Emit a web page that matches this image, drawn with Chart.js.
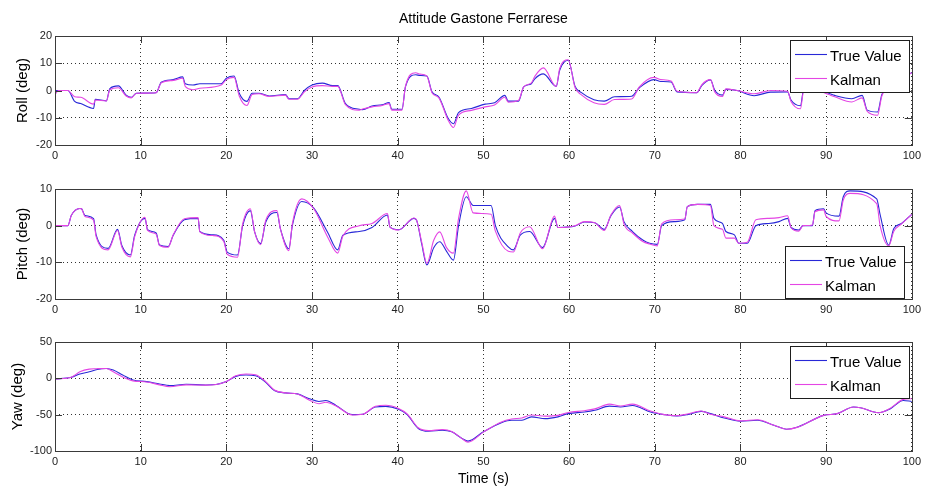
<!DOCTYPE html>
<html lang="en">
<head>
    <meta charset="UTF-8">
    <title>Attitude Gastone Ferrarese</title>
    <script src="https://cdn.jsdelivr.net/npm/chart.js"></script>
    <style>
        body { margin: 0; background: #fff; }
        #wrap { position: relative; width: 925px; height: 490px; background: #fff; }
        #wrap canvas { position: absolute; left: 0; }
    </style>
</head>
<body>
    <div id="wrap">
        <canvas id="rollChart" width="925" height="165" style="top:0px"></canvas>
        <canvas id="pitchChart" width="925" height="155" style="top:165px"></canvas>
        <canvas id="yawChart" width="925" height="170" style="top:320px"></canvas>
    </div>

    <script>
        // --- data (time in s, angles in deg) ---
        const rollTime = [0, 0.4, 1.5, 2.3, 3.0, 4.5, 4.7, 6.0, 6.4, 7.4, 8.3, 8.9, 9.5, 11.8, 12.4, 13.8, 14.9, 15.2, 16.1, 16.9, 19.4,
            20.0, 20.9, 21.5, 22.4, 23.0, 23.8, 25.0, 26.9, 27.3, 28.3, 29.1, 30.0, 31.2, 32.4, 33.0, 33.9, 35.5, 35.9, 37.0, 38.2,
            39.0, 39.3, 40.5, 40.9, 42.1, 42.6, 43.4, 44.0, 44.8, 45.9, 46.5, 47.1, 48.6, 50.2, 51.3, 52.5, 52.9, 54.1, 54.7, 55.6,
            56.0, 57.0, 58.5, 58.9, 59.9, 60.7, 61.4, 62.9, 64.1, 65.3, 67.3, 68.2, 69.9, 70.7, 71.9, 72.6, 74.9, 75.5, 76.5, 77.0,
            77.9, 78.3, 79.6, 81.6, 83.5, 85.5, 85.9, 87.0, 87.4, 88.5, 90.3, 91.0, 93.0, 94.2, 94.8, 96.0, 96.5, 98.0, 100];
        const rollTrue = [0, 0, 0, -4, -4.8, -6.6, -3.2, -3.8, 0.7, 1.7, -1.7,
            -2.5, -1, -0.8, 3, 4, 5, 2.5, 2, 2.5, 2.5,
            4.5, 5.3, -1, -4, -1, -1, -2, -1.5, -3, -3,
            0, 2, 2.7, 1.8, 1.8, -4.8, -6.9, -7, -5.7, -5.2,
            -4.4, -6.9, -6.9, 1.3, 5.8, 5.5, 5.3, -0.5, -2.4, -10.3,
            -12.2, -8.1, -6.6, -5, -4.5, -1.8, -3.9, -3.9, 1.3, 2.5,
            4.3, 6.1, 1.5, 7.4, 11.1, 1.5, -0.7, -3.4, -3.9, -2.3,
            -2.1, 1, 4, 3.3, 3.1, -0.5, -0.8, 1.9, 3.9, 0.1,
            -1.7, 0.4, 0, -1.9, -0.6, -0.5, -3.5, -5.6, 0.7, 0.5,
            -1, -1.8, -3, -1.8, -7.2, -7.9, -1.5, 3, 6.5];
        const rollKalman = [-1.5, 0, 0, -2.3, -2.5, -5, -3.5, -3.8, 0.3, 1.0, -2,
            -2.7, -1, -0.8, 2.8, 3.7, 4.5, 1.5, 0.3, 0.8, 2,
            4, 4.8, -2, -5.5, -1.5, -1.2, -2.2, -1.7, -3.2, -3.2,
            -0.5, 1.3, 1.8, 1.5, 1.5, -5.2, -7.2, -6.8, -6, -5.5,
            -4.8, -7.2, -7.2, 1.5, 6.5, 6, 5.3, -0.8, -2.7, -11,
            -13.6, -9, -7.3, -6, -5.3, -2.5, -4.3, -3.6, 1.3, 2.8,
            5.2, 8.3, 1.5, 8, 11.3, 1, -1.5, -4.5, -5.1, -3.3,
            -3.1, 1.3, 4.8, 4, 3.5, -0.3, -0.8, 2.2, 4, -0.5,
            -2.2, 0.6, 0, -1.2, 0, -0.3, -4, -6.7, 0.3, 0.5,
            -1.5, -2.3, -4.2, -2.7, -7.7, -9.1, -2, 3, 6.5];

        const pitchTime = [0, 1.5, 1.9, 2.9, 3.1, 3.5, 4.5, 4.8, 6.2, 7.3,
            7.8, 8.8, 9.3, 10.5, 10.8, 11.8, 12.2, 13.2, 13.8, 15.1,
            16.7, 16.9, 18.4, 19.7, 20.1, 21.3, 21.9, 22.8, 23.3, 24.0,
            24.6, 25.9, 26.3, 27.3, 27.7, 28.8, 30.2, 31.8, 33.0, 33.6,
            35.5, 37.0, 38.8, 39.1, 40.1, 41.9, 42.2, 42.8, 43.4, 44.2,
            44.9, 45.7, 46.5, 47.1, 48.0, 48.8, 50.9, 51.4, 52.9, 53.5,
            54.3, 55.4, 56.9, 58.3, 58.7, 60.7, 61.8, 63.0, 64.1, 64.9,
            65.9, 66.4, 67.4, 68.6, 69.4, 70.3, 70.8, 72.3, 73.5, 73.8,
            75.0, 76.5, 76.9, 77.9, 78.3, 79.3, 79.8, 80.8, 81.8, 83.3,
            84.5, 85.5, 85.9, 86.8, 87.3, 88.4, 88.7, 89.7, 90.0, 91.5,
            92.0, 92.8, 95.9, 96.3, 97.3, 97.9, 98.8, 100];
        const pitchTrue = [0, 0, 2.8, 4.7, 4.6, 2.8, 1.9, -2.5, -6.2, -1,
            -5.4, -8, -2.6, 2, -1.1, -2, -5.3, -5.7, -2.6, 1.6,
            2, -1.6, -2.5, -4, -7.2, -8, 0, 4.1, -1.7, -4.9,
            1, 3.6, -0.8, -6.3, 0, 6.6, 4.8, -1.7, -6.6, -2.6,
            -1.6, -0.5, 2.9, -0.4, -1.1, 2, 1.5, -5, -10.7, -6,
            -4.4, -7, -9.4, 0, 7.9, 5.5, 5.5, 0, -5.8, -6.6,
            -2.6, -1.6, -6, 2, -0.5, -0.1, 1, 0.8, -1, 2.8,
            5.1, 1.1, -1.6, -3.9, -4.8, -5.1, 0, 1.1, 1.6, 5.2,
            5.8, 5.8, 2, 0.6, -1.6, -2.5, -4.8, -4.8, 0, 0.6,
            1.1, 2, -0.5, -1.2, 0, 0, 4.1, 4.6, 3.5, 2.6,
            7.9, 9.5, 7.3, 3, -5.3, -0.8, 0.6, 3.1];
        const pitchKalman = [0, 0, 2.8, 4.7, 4.6, 2.5, 1.5, -3, -6.6, -1.3,
            -5.8, -8.5, -3, 2.3, -1.3, -2.3, -5.4, -5.9, -2.5, 1.9,
            2.2, -1.6, -2.7, -4.3, -7.8, -8.6, 0.5, 4.6, -1.7, -5.2,
            1.5, 4.1, -0.8, -6.8, 0.5, 7.3, 4.6, -3, -7.5, -2.8,
            0, 0.6, 3.3, -0.4, -1.2, 2.1, 1.5, -4.5, -10.3, -4,
            -1.7, -6, -7.5, 2, 9.5, 3.5, 3.1, -1.5, -7, -7.2,
            -2, -0.3, -6.3, 2.6, -0.5, 0, 1.1, 0.8, -1.3, 3,
            5.5, 0.5, -2, -4.3, -5, -5.5, 0.5, 1.6, 1.8, 5.2,
            5.8, 5.5, 0, -1, -3.4, -3.4, -4.8, -4.5, 1.6, 2,
            2.2, 2.7, -0.5, -1.5, 0, 0.2, 3.8, 4.3, 2.5, 1.3,
            7, 8.8, 6, 0, -5.5, -1.5, 0.5, 3.1];

        const yawTime = [0, 1.9, 2.9, 4.0, 4.8, 6.0, 6.8, 7.9, 9.1, 10.7,
            12.2, 13.4, 15.3, 17.6, 18.8, 20.0, 21.1, 22.3, 23.4, 24.6,
            25.6, 26.9, 28.3, 29.7, 30.8, 31.6, 32.8, 34.7, 35.9, 37.4,
            38.6, 40.1, 41.1, 42.4, 43.6, 45.2, 46.3, 47.5, 48.2, 50.0,
            52.1, 53.3, 54.5, 55.6, 57.2, 58.7, 59.9, 61.8, 63.0, 64.7,
            66.0, 67.4, 69.5, 71.1, 72.6, 73.8, 75.4, 76.5, 78.1, 80.0,
            82.0, 83.9, 85.4, 86.6, 89.7, 91.3, 93.2, 94.0, 96.1, 97.5,
            99.0, 100];
        const yawTrue = [-1, 1.4, 5.9, 9, 11.8, 13.6, 11.4, 4.5, -2.3, -4.5,
            -7.7, -10, -8.2, -9.1, -8.5, -4.5, 2.7, 4.5, 3.6, -5.5,
            -16.8, -20, -21.4, -28.2, -31.8, -30.5, -37.3, -50, -49.5, -39.5,
            -38.6, -42.7, -50, -69, -72.7, -71.4, -73.6, -82.7, -86.4, -73.6,
            -61, -57.7, -57.7, -53, -55.5, -53, -48.6, -46.4, -44, -38.2,
            -39.5, -37.3, -46.4, -50, -51.8, -50, -45.5, -48.6, -54.5, -59,
            -57.7, -64.5, -70, -67.3, -51, -48.6, -39.5, -40.5, -47.3, -41.8,
            -30.5, -31.8];
        const yawKalman = [-1, 1.5, 9, 12.7, 13.2, 13.6, 9, 2, -3.5, -5,
            -9, -11.5, -9, -9.3, -8.5, -4.5, 3.5, 6, 5, -4.5,
            -16, -20, -21.5, -30, -35, -33, -38, -50.5, -49.5, -38.5,
            -37, -41.5, -49, -68, -72, -70.5, -73, -83, -88, -74,
            -60, -56, -54.5, -50.5, -52, -51, -47, -44.5, -42, -35.5,
            -38, -35.5, -45, -50, -51.5, -49, -45, -49.5, -53, -58.5,
            -57, -64.5, -70, -67.5, -51, -48.6, -39.5, -40.5, -47.3, -41,
            -29, -28];

        const seriesNames = ['True Value', 'Kalman'];
        const xTicksStep = 10;

        const FONT = '"Liberation Sans", Arial, Helvetica, sans-serif';
        const BLUE = 'rgb(40, 40, 215)';
        const MAGENTA = 'rgb(228, 70, 228)';

        Chart.defaults.font.family = FONT;
        Chart.defaults.color = '#1a1a1a';

        // MATLAB style box + inward tick marks
        const boxPlugin = {
            id: 'matlabBox',
            afterDatasetsDraw(chart) {
                const { ctx, chartArea: a, scales: { x, y } } = chart;
                const tl = 7;
                ctx.save();
                ctx.strokeStyle = '#3a3a3a';
                ctx.lineWidth = 1;
                ctx.beginPath();
                x.ticks.forEach(t => {
                    const px = Math.round(x.getPixelForValue(t.value)) + 0.5;
                    ctx.moveTo(px, a.top); ctx.lineTo(px, a.top + tl);
                    ctx.moveTo(px, a.bottom); ctx.lineTo(px, a.bottom - tl);
                });
                y.ticks.forEach(t => {
                    const py = Math.round(y.getPixelForValue(t.value)) + 0.5;
                    ctx.moveTo(a.left, py); ctx.lineTo(a.left + tl, py);
                    ctx.moveTo(a.right, py); ctx.lineTo(a.right - tl, py);
                });
                ctx.stroke();
                ctx.strokeRect(Math.round(a.left) + 0.5, Math.round(a.top) + 0.5,
                    Math.round(a.right - a.left), Math.round(a.bottom - a.top));
                ctx.restore();
            }
        };

        // legend box drawn inside the axes
        const legendPlugin = {
            id: 'boxLegend',
            afterDraw(chart, args, opts) {
                const { ctx, chartArea: a } = chart;
                const w = 119, h = 52;
                const left = Math.round(a.right - opts.right - w);
                const top = Math.round(opts.corner === 'se' ? a.bottom - opts.bottom - h : a.top + opts.top);
                ctx.save();
                ctx.fillStyle = '#fff';
                ctx.fillRect(left, top, w, h);
                ctx.strokeStyle = '#1e1e1e';
                ctx.lineWidth = 1;
                ctx.strokeRect(left + 0.5, top + 0.5, w, h);
                chart.data.datasets.forEach((ds, i) => {
                    const rowY = Math.round(top + 13.5 + i * 24) + 0.5;
                    ctx.strokeStyle = ds.borderColor;
                    ctx.lineWidth = ds.borderWidth;
                    ctx.beginPath();
                    ctx.moveTo(left + 5, rowY);
                    ctx.lineTo(left + 37, rowY);
                    ctx.stroke();
                    ctx.fillStyle = '#000';
                    ctx.font = '15px ' + FONT;
                    ctx.textBaseline = 'middle';
                    ctx.fillText(ds.label, left + 40, rowY + 2.5);
                });
                ctx.restore();
            }
        };

        function toPoints(times, values) {
            return times.map((t, i) => ({ x: t, y: values[i] }));
        }

        function makePanel(id, p) {
            const ctx = document.getElementById(id).getContext('2d');
            return new Chart(ctx, {
                type: 'line',
                data: {
                    datasets: [
                        { label: seriesNames[0], data: toPoints(p.time, p.trueVals), borderColor: BLUE,
                          borderWidth: 1.1, pointRadius: 0, cubicInterpolationMode: 'monotone', order: 1 },
                        { label: seriesNames[1], data: toPoints(p.time, p.kalman), borderColor: MAGENTA,
                          borderWidth: 1.1, pointRadius: 0, cubicInterpolationMode: 'monotone', order: 0 }
                    ]
                },
                options: {
                    responsive: false,
                    animation: false,
                    devicePixelRatio: 1,
                    layout: { padding: { top: p.padTop, right: 10, bottom: 0, left: 0 } },
                    plugins: {
                        legend: { display: false },
                        tooltip: { enabled: false },
                        title: p.title ? {
                            display: true, text: p.title, fullSize: false, color: '#000',
                            font: { size: 14, weight: 'normal', family: FONT },
                            padding: { top: 11, bottom: 8.2 }
                        } : { display: false },
                        boxLegend: p.legend
                    },
                    scales: {
                        x: {
                            type: 'linear', min: 0, max: 100,
                            afterFit: s => { s.height = p.xAxisH; },
                            ticks: { stepSize: xTicksStep, autoSkip: false, maxRotation: 0, padding: 4,
                                     font: { size: 11 }, color: '#222' },
                            grid: { color: 'rgba(0,0,0,0.8)', drawTicks: false, lineWidth: 1 },
                            border: { display: false, dash: [1, 3] },
                            title: p.xTitle ? {
                                display: true, text: p.xTitle, color: '#000',
                                font: { size: 14, family: FONT }, padding: { top: 0, bottom: 2.6 }
                            } : { display: false }
                        },
                        y: {
                            type: 'linear', min: p.yMin, max: p.yMax,
                            afterFit: s => { s.width = 55; },
                            ticks: { stepSize: p.yStep, padding: 3, font: { size: 11 }, color: '#222' },
                            grid: { color: 'rgba(0,0,0,0.8)', drawTicks: false, lineWidth: 1 },
                            border: { display: false, dash: [1, 3] },
                            title: {
                                display: true, text: p.yTitle, color: '#000',
                                font: { size: 15, family: FONT }, padding: { top: p.yTitlePad, bottom: 0 }
                            }
                        }
                    }
                },
                plugins: [boxPlugin, legendPlugin]
            });
        }

        makePanel('rollChart', {
            time: rollTime, trueVals: rollTrue, kalman: rollKalman,
            title: 'Attitude Gastone Ferrarese', padTop: 0, xAxisH: 20,
            yMin: -20, yMax: 20, yStep: 10, yTitle: 'Roll (deg)', yTitlePad: 14,
            legend: { corner: 'ne', right: 3, top: 4 }
        });

        makePanel('pitchChart', {
            time: pitchTime, trueVals: pitchTrue, kalman: pitchKalman,
            padTop: 24, xAxisH: 21,
            yMin: -20, yMax: 10, yStep: 10, yTitle: 'Pitch (deg)', yTitlePad: 14,
            legend: { corner: 'se', right: 8, bottom: 1 }
        });

        makePanel('yawChart', {
            time: yawTime, trueVals: yawTrue, kalman: yawKalman,
            padTop: 22, xAxisH: 39, xTitle: 'Time (s)',
            yMin: -100, yMax: 50, yStep: 50, yTitle: 'Yaw (deg)', yTitlePad: 9,
            legend: { corner: 'ne', right: 3, top: 4 }
        });
    </script>
</body>
</html>
